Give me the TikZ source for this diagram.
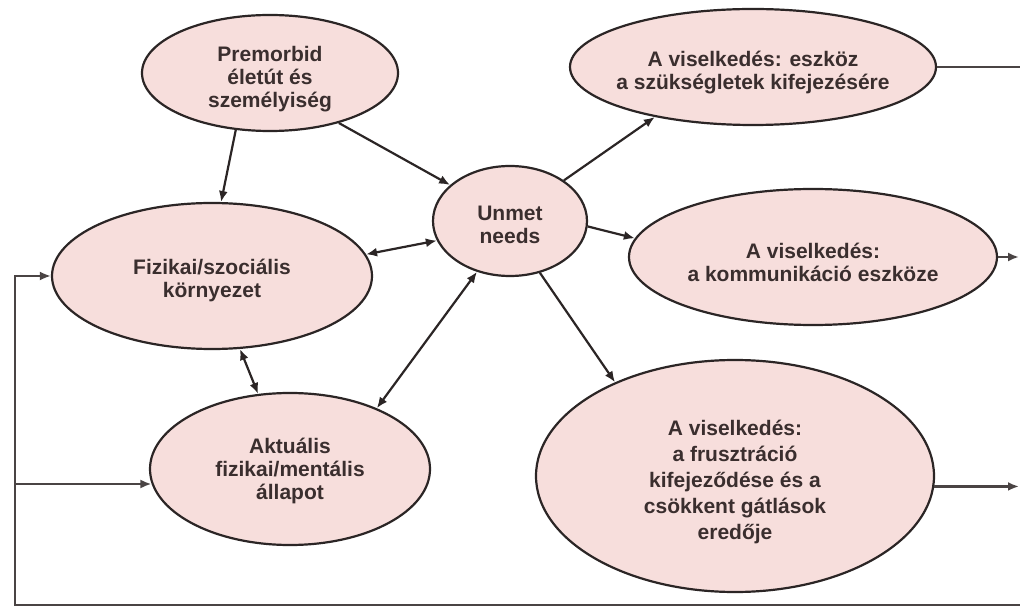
\documentclass[tikz,border=0pt]{standalone}
\usepackage{fontspec}
\setmainfont{Liberation Sans}
\usetikzlibrary{shapes.geometric,arrows.meta}
\definecolor{nodefill}{HTML}{F7DEDC}
\definecolor{edgecol}{HTML}{2B2525}
\definecolor{loopcol}{HTML}{4A4444}
\definecolor{txtcol}{HTML}{3A2E2E}
\begin{document}
\begin{tikzpicture}[x=1pt,y=-1pt,
  bubble/.style={ellipse,draw=edgecol,line width=2.2pt,fill=nodefill,inner sep=0pt},
  lbl/.style={align=center,text=txtcol,font=\bfseries\fontsize{21}{23}\selectfont,inner sep=0pt},
  tip/.style={-{Latex[length=11pt,width=9pt]}},
  conn/.style={draw=edgecol,line width=2.2pt,tip},
  both/.style={draw=edgecol,line width=2.2pt,{Latex[length=11pt,width=9pt]}-{Latex[length=11pt,width=9pt]}},
  loopline/.style={draw=loopcol,line width=2.6pt}
]
\useasboundingbox (0,0) rectangle (1020,609);
\fill[white] (0,0) rectangle (1020,609);

% ellipses
\node[bubble,minimum width=256pt,minimum height=116pt] (prem) at (270,73) {};
\node[bubble,minimum width=366pt,minimum height=116pt] (topR) at (753,67) {};
\node[bubble,minimum width=320pt,minimum height=146pt] (fiz) at (212,276) {};
\node[bubble,minimum width=154pt,minimum height=110pt] (unmet) at (510,221) {};
\node[bubble,minimum width=368pt,minimum height=136pt] (midR) at (813,257) {};
\node[bubble,minimum width=280pt,minimum height=152pt] (akt) at (290,469) {};
\node[bubble,minimum width=398pt,minimum height=232pt] (botR) at (735,476) {};

% texts
\node[lbl] (premT) at (270,79) {Premorbid\\életút és\\személyiség};
\node[lbl] (topRT) at (753,73) {A viselkedés: eszköz\\a szükségletek kifejezésére};
\node[lbl] (fizT) at (212,280) {Fizikai/szociális\\környezet};
\node[lbl] (unmetT) at (510,225) {Unmet\\needs};
\node[lbl] (midRT) at (813,262) {A viselkedés:\\a kommunikáció eszköze};
\node[lbl] (aktT) at (290,471) {Aktuális\\fizikai/mentális\\állapot};
\node[lbl,font=\bfseries\fontsize{21}{26}\selectfont] (botRT) at (735,482) {A viselkedés:\\a frusztráció\\kifejeződése és a\\csökkent gátlások\\eredője};

% connectors
\draw[conn] (prem.239) -- (fiz.83);
\draw[conn] (prem.324) -- (unmet.149);
\draw[conn] (unmet.37) -- (topR.207);
\draw[conn] (unmet.356) -- (midR.174);
\draw[conn] (unmet.300) -- (botR.142);
\draw[both] (fiz.8) -- (unmet.195);
\draw[both] (unmet.237) -- (akt.35);
\draw[both] (fiz.291) -- (akt.113);

% right edge outputs
\coordinate (r1) at (1020,67);
\coordinate (r2) at (1019,257);
\coordinate (r3) at (1019,485);
\draw[loopline] (topR.east) -- (r1);
\draw[loopline,tip] (midR.east) -- (r2);
\draw[loopline,tip] (botR.357) -- (botR.357 -| r3);

% feedback loop
\coordinate (bl) at (15,605);
\coordinate (br) at (1020,605);
\coordinate (lt) at (15,276);
\coordinate (lm) at (15,484);
\draw[loopline,line cap=rect] (br) -- (bl) -- (lt);
\draw[loopline,tip] (lt) -- (fiz.west);
\draw[loopline,tip] (lm) -- (lm -| akt.186);
\end{tikzpicture}
\end{document}
